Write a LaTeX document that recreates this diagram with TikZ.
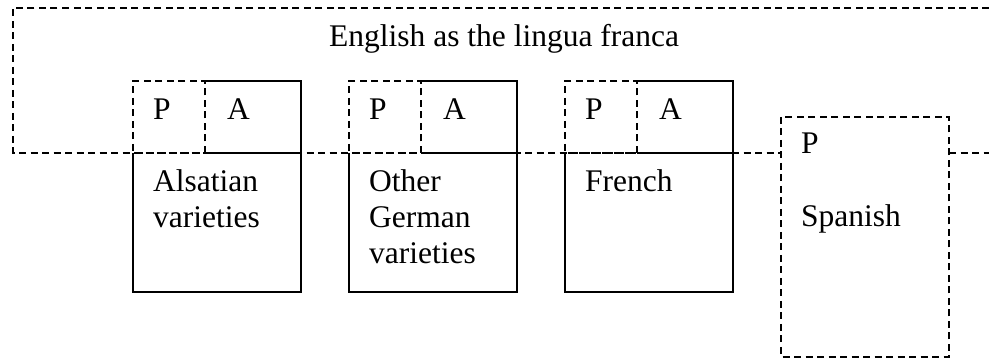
\documentclass[tikz,border=0pt]{standalone}
\usepackage{fontspec}
\setmainfont{Liberation Serif}
\begin{document}
\begin{tikzpicture}[x=1pt,y=-1pt,
  dsh/.style={line width=1.6pt,dash pattern=on 7pt off 4.5pt},
  sld/.style={line width=1.6pt},
  lbl/.style={anchor=base west,inner sep=0pt,align=left,font=\fontsize{31.5}{36}\selectfont}]
\useasboundingbox (0,0) rectangle (989,358);
% outer box: English as the lingua franca
\draw[dsh] (989,8) -- (13,8) -- (13,153) -- (781,153);
\draw[dsh] (949,153) -- (989,153);
\node[lbl] (eng) at (329,47) {English as the lingua franca};
% three language boxes
\foreach \L/\D/\R/\n in {133/205/301/a, 349/421/517/b, 565/637/733/c}{
  \draw[sld] (\D,81) -- (\R,81) -- (\R,292) -- (\L,292) -- (\L,153) ;
  \draw[sld] (\D,153) -- (\R,153);
  \draw[dsh] (\D,153) -- (\D,81) -- (\L,81) -- (\L,153) -- cycle;
  \node[lbl] (p\n) at (\L+20,120) {P};
  \node[lbl] (a\n) at (\D+22,120) {A};
}
% multi-line labels: base anchor is on the last line
\node[lbl] (als) at (153,228) {Alsatian\\varieties};
\node[lbl] (ger) at (369,264) {Other\\German\\varieties};
\node[lbl] (fre) at (585,192) {French};
% Spanish
\draw[dsh] (781,117) rectangle (949,357);
\node[lbl] (ps) at (801,154) {P};
\node[lbl] (spa) at (801,227) {Spanish};
\end{tikzpicture}
\end{document}
